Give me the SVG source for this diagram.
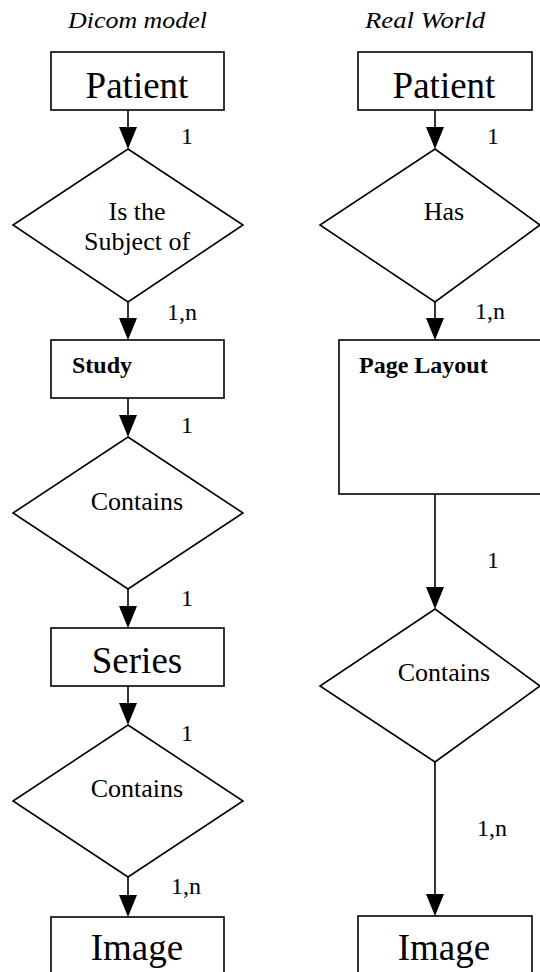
<svg xmlns="http://www.w3.org/2000/svg" width="540" height="972" viewBox="0 0 540 972">
<defs>
<style>
.box{fill:#fff;stroke:#000;stroke-width:1.6}
.dia{fill:#fff;stroke:#000;stroke-width:1.6}
.ln{stroke:#000;stroke-width:1.6;fill:none}
.ah{fill:#000}
text{font-family:"Liberation Serif","Times New Roman",serif;fill:#000}
.title{font-style:italic;font-size:24px}
.big{font-size:37px;text-anchor:middle}
.mid{font-size:26px;text-anchor:middle}
.bold{font-weight:bold;font-size:24px}
.card{font-size:24px}
</style>
</defs>
<rect width="540" height="972" fill="#fff"/>
<text class="title" x="68" y="28" textLength="139" lengthAdjust="spacingAndGlyphs">Dicom model</text>
<text class="title" x="365" y="28" textLength="120" lengthAdjust="spacingAndGlyphs">Real World</text>

<g id="connectors">
<line class="ln" x1="128" y1="110" x2="128" y2="130"/><polygon class="ah" points="119,127 137,127 128,149"/>
<line class="ln" x1="128" y1="302" x2="128" y2="322"/><polygon class="ah" points="119,318 137,318 128,340"/>
<line class="ln" x1="128" y1="398" x2="128" y2="418"/><polygon class="ah" points="119,415 137,415 128,437"/>
<line class="ln" x1="128" y1="589" x2="128" y2="610"/><polygon class="ah" points="119,606 137,606 128,628"/>
<line class="ln" x1="128" y1="686" x2="128" y2="706"/><polygon class="ah" points="119,703 137,703 128,725"/>
<line class="ln" x1="128" y1="877" x2="128" y2="898"/><polygon class="ah" points="119,895 137,895 128,917"/>
<line class="ln" x1="435" y1="110" x2="435" y2="130"/><polygon class="ah" points="426,127 444,127 435,149"/>
<line class="ln" x1="435" y1="302" x2="435" y2="322"/><polygon class="ah" points="426,318 444,318 435,340"/>
<line class="ln" x1="435" y1="494" x2="435" y2="590"/><polygon class="ah" points="426,587 444,587 435,609"/>
<line class="ln" x1="435" y1="762" x2="435" y2="898"/><polygon class="ah" points="426,894 444,894 435,916"/>
<text class="card" x="181" y="144">1</text>
<text class="card" x="167" y="320">1,n</text>
<text class="card" x="181" y="433">1</text>
<text class="card" x="181" y="606">1</text>
<text class="card" x="181" y="741">1</text>
<text class="card" x="171" y="894">1,n</text>
<text class="card" x="487" y="144">1</text>
<text class="card" x="475" y="319">1,n</text>
<text class="card" x="487" y="568">1</text>
<text class="card" x="477" y="836">1,n</text>
</g>

<g id="dicom-patient">
<rect class="box" x="51" y="52" width="173" height="58"/>
<text class="big" x="137" y="98">Patient</text>
</g>
<g id="dicom-subject">
<polygon class="dia" points="128,149 243,225 128,302 13,225"/>
<text class="mid" x="137" y="220">Is the</text>
<text class="mid" x="137" y="250">Subject of</text>
</g>
<g id="dicom-study">
<rect class="box" x="51" y="340" width="173" height="58"/>
<text class="bold" x="72" y="373">Study</text>
</g>
<g id="dicom-contains1">
<polygon class="dia" points="128,437 243,513 128,589 13,513"/>
<text class="mid" x="137" y="510">Contains</text>
</g>
<g id="dicom-series">
<rect class="box" x="51" y="628" width="173" height="58"/>
<text class="big" x="137" y="673">Series</text>
</g>
<g id="dicom-contains2">
<polygon class="dia" points="128,725 243,801 128,877 13,801"/>
<text class="mid" x="137" y="797">Contains</text>
</g>
<g id="dicom-image">
<rect class="box" x="51" y="917" width="173" height="70"/>
<text class="big" x="137" y="960">Image</text>
</g>

<g id="real-patient">
<rect class="box" x="358" y="52" width="174" height="58"/>
<text class="big" x="444" y="98">Patient</text>
</g>
<g id="real-has">
<polygon class="dia" points="435,149 540,225 435,302 320,225"/>
<text class="mid" x="444" y="220">Has</text>
</g>
<g id="real-pagelayout">
<rect class="box" x="339" y="340" width="210" height="154"/>
<text class="bold" x="359" y="373">Page Layout</text>
</g>
<g id="real-contains">
<polygon class="dia" points="435,609 540,686 435,762 320,686"/>
<text class="mid" x="444" y="681">Contains</text>
</g>
<g id="real-image">
<rect class="box" x="358" y="916" width="174" height="70"/>
<text class="big" x="444" y="960">Image</text>
</g>
</svg>
